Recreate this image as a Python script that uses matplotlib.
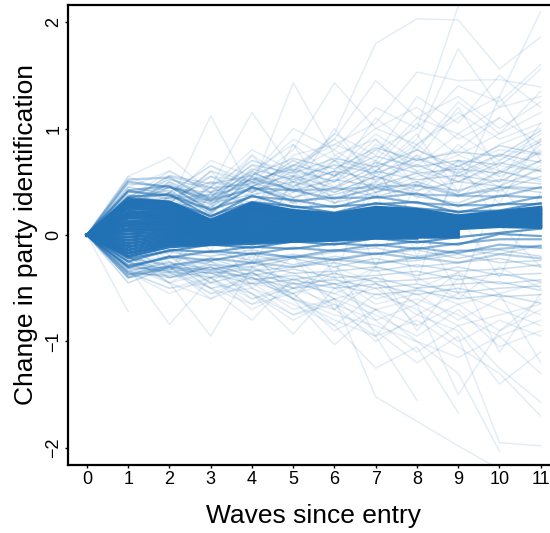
import numpy as np
import matplotlib
matplotlib.use("Agg")
import matplotlib.pyplot as plt

## Donnees
waves = list(range(12))

# trajectoires du coeur (tres nombreuses, superposees)
core_paths = [
    [0, .33, .31, .14, .30, .23, .20, .26, .24, .18, .22, .26],
    [0, .31, .29, .13, .28, .22, .19, .25, .23, .17, .21, .24],
    [0, .29, .27, .12, .26, .21, .18, .23, .22, .16, .20, .23],
    [0, .27, .25, .11, .25, .20, .17, .22, .21, .16, .19, .21],
    [0, .25, .23, .10, .23, .19, .16, .21, .20, .15, .18, .20],
    [0, .22, .21, .09, .21, .17, .15, .19, .18, .14, .17, .19],
    [0, .20, .19, .08, .19, .16, .14, .18, .17, .13, .16, .17],
    [0, .18, .17, .07, .17, .15, .13, .16, .16, .12, .15, .16],
    [0, .16, .15, .06, .15, .13, .12, .15, .14, .11, .14, .14],
    [0, .13, .13, .05, .13, .12, .11, .13, .13, .10, .12, .13],
    [0, .11, .11, .04, .11, .10, .10, .12, .12, .09, .11, .11],
    [0, .09, .09, .03, .09, .09, .08, .10, .10, .08, .10, .10],
    [0, .06, .07, .02, .07, .07, .07, .09, .09, .07, .09, .08],
    [0, .04, .05, .01, .05, .06, .06, .07, .08, .06, .08, .07],
    [0, .01, .03, .00, .03, .04, .04, .06, .06, .05],
    [0, -.02, .01, -.01, .01, .03, .03, .04, .05, .04],
    [0, -.05, -.01, -.02, .00, .01, .02, .03, .03, .02],
    [0, -.08, -.03, -.03, -.02, .00, .00, .02, .02, .01],
    [0, -.11, -.05, -.05, -.03, -.02, -.01, .00, .01, .00],
    [0, -.14, -.07, -.06, -.05, -.03, -.02, -.01, -.01, -.01],
    [0, -.17, -.09, -.08, -.06, -.05, -.04, -.02, -.02, -.02],
    [0, -.20, -.11, -.09, -.08, -.06, -.05, -.03, -.03],
]
core_counts = [30] * 21 + [22]

# bord du coeur (densite decroissante)
edge_paths = [
    [0, .35, .31, .18, .31, .27, .21, .30, .25, .22, .23, .30],
    [0, .36, .38, .17, .37, .26, .27, .29, .31, .21, .29, .29],
    [0, .41, .37, .24, .36, .33, .26, .36, .30, .28, .28, .36],
    [0, .42, .46, .23, .45, .32, .35, .35, .39, .27, .37, .35],
    [0, .50, .45, .32, .44, .42, .34, .44, .38, .37, .36, .45],
    [0, .52, .54, .33, .53, .42, .43, .45, .47, .37, .45, .44],
    [0, -.22, -.15, -.09, -.12, -.06, -.09, -.03, -.07, -.02, .02, .06],
    [0, -.25, -.14, -.16, -.11, -.13, -.08, -.10, -.06, -.09, .01, -.01],
    [0, -.29, -.21, -.15, -.18, -.12, -.15, -.09, -.13, -.08, -.04, -.04],
    [0, -.31, -.20, -.24, -.17, -.21, -.14, -.18, -.12, -.17, -.09, -.12],
    [0, -.37, -.29, -.22, -.26, -.20, -.23, -.17, -.22, -.15, -.13, -.10],
    [0, -.40, -.30, -.33, -.26, -.30, -.23, -.27, -.21, -.26, -.18, -.22],
]
edge_counts = [10, 8, 6, 5, 4, 3, 10, 8, 6, 5, 4, 3]

# halo autour du coeur
mid_paths = [
    [0, .30, .40, .22, .45, .30, .38, .48, .36, .30, .45, .40],
    [0, .25, .36, .30, .38, .44, .30, .40, .50, .38, .42, .55],
    [0, .38, .30, .26, .50, .35, .45, .36, .46, .42, .52, .48],
    [0, .28, .45, .34, .42, .50, .40, .55, .42, .50, .46, .62],
    [0, .35, .42, .20, .55, .42, .52, .46, .58, .40, .60, .52],
    [0, .42, .34, .38, .46, .56, .44, .60, .52, .56, .50, .70],
    [0, .30, .48, .28, .58, .46, .60, .52, .66, .50, .68, .60],
    [0, .40, .44, .40, .52, .62, .50, .68, .58, .62, .58, .78],
    [0, .45, .38, .32, .62, .52, .66, .58, .72, .58, .76, .68],
    [0, .36, .52, .44, .48, .66, .56, .74, .64, .70, .66, .88],
    [0, .48, .46, .36, .66, .58, .72, .64, .80, .64, .84, .76],
    [0, .32, .56, .48, .56, .72, .62, .82, .70, .78, .74, .98],
    [0, -.24, -.16, -.20, -.14, -.22, -.16, -.12, -.20, -.14, -.18, -.10],
    [0, -.28, -.22, -.16, -.24, -.18, -.24, -.18, -.14, -.22, -.14, -.20],
    [0, -.22, -.28, -.24, -.18, -.28, -.20, -.26, -.24, -.18, -.26, -.24],
    [0, -.30, -.20, -.28, -.30, -.22, -.30, -.22, -.30, -.26, -.22, -.30],
    [0, -.26, -.32, -.22, -.34, -.30, -.26, -.34, -.28, -.34, -.32, -.28],
    [0, -.34, -.26, -.32, -.26, -.36, -.34, -.30, -.38, -.30, -.38, -.36],
    [0, -.28, -.36, -.28, -.38, -.32, -.40, -.38, -.34, -.42, -.36, -.44],
    [0, -.32, -.30, -.36, -.32, -.42, -.36, -.44, -.42, -.38, -.46, -.42],
    [0, -.36, -.38, -.30, -.42, -.38, -.46, -.40, -.50, -.46, -.44, -.52],
    [0, -.30, -.34, -.40, -.36, -.46, -.42, -.50, -.46, -.54, -.50, -.48],
    [0, -.38, -.32, -.36, -.46, -.42, -.50, -.46, -.56, -.50, -.58, -.56],
    [0, -.34, -.40, -.34, -.40, -.50, -.46, -.56, -.52, -.60, -.56, -.64],
]
mid_counts = [2] * 24

# trajectoires isolees
stray_paths = [
    [0, .55, .73, .40, .65, .50],
    [0, .35, .30, 1.12, .40, .55, .35],
    [0, .20, .55, .45, 1.15, .60, .80, .55],
    [0, .30, .25, .60, .45, 1.43, .75, .90, .60],
    [0, .30, .50, .35, .70, .55, .95, 1.80, 2.03, 2.02, 1.56, 1.86],
    [0, .25, .40, .55, .50, .80, 1.43, 1.00, 1.20, .90, 1.10],
    [0, .35, .20, .45, .70, .60, .90, 1.45, 1.10, 1.30, 1.00, 1.25],
    [0, .15, .35, .50, .40, .75, .85, 1.05, 1.53, 1.45, 1.46, 1.39],
    [0, .30, .45, .25, .60, .40, .70, .60, .90, 1.75, 1.20, 1.30],
    [0, .20, .35, .50, .45, .70, .55, .80, 1.00, 2.15],
    [0, .45, .60, .40, .55, .90, .70, 1.00, .85, 1.10, 1.30, 2.10],
    [0, .25, .30, .60, .50, .65, .85, .70, 1.10, .95, 1.20, 1.56],
    [0, .30, .35, .70, .55, 1.00, .80, 1.20, 1.00, 1.40, 1.25, 1.60],
    [0, .35, .55, .45, .80, .60, .95, .75, 1.30, 1.05, 1.50, 1.20],
    [0, .20, .45, .35, .60, .85, .55, 1.10, .80, 1.25, .95, 1.35],
    [0, .30, .30, .55, .35, .65, .90, .60, .85, 1.15, .90, 1.05],
    [0, .30, .20, .40, .75, .50, .60, .95, .70, .80, 1.10, .85],
    [0, .25, .50, .30, .45, .70, .45, .65, 1.05, .75, .95, 1.15],
    [0, .55, .40, .65, .50, .45, .75, .55, .80, .60, .85, 1.00],
    [0, .15, .30, .55, .40, .60, .50, .85, .65, .95, .70, .90],
    [0, .33, .25, .35, .60, .40, .55, .70, .50, .65, .80, .75],
    [0, .35, .60, .40, .30, .55, .65, .45, .75, .55, .70, .95],
    [0, .20, .40, .65, .45, .35, .50, .80, .60, .75, .60, .80],
    [0, .30, .30, .20, .45, .65, .40, .55, .45, .85, .55, .70],
    [0, .10, .25, .45, .30, .50, .70, .40, .60, .50, .65, .60],
    [0, .30, -.20, .40, -.10, .50, .10, .70, -.20, .60, .30, .90],
    [0, -.30, .25, -.15, .45, .00, .60, -.30, .50, .20, -.40, .40],
    [0, .20, -.35, .30, -.25, .55, -.10, .40, -.45, .70, .10, -.30],
    [0, -.20, .40, .10, -.30, .35, -.40, .60, .15, -.55, .45, .05],
    [0, .25, .05, .50, .20, .85, .30, .60, .95, .40, 1.30, .70],
    [0, -.10, .30, .60, .20, .40, 1.00, .50, .70, 1.20, .60],
    [0, .20, .50, .25, .75, .35, .55, .90, .45, .70, .55],
    [0, .28, .15, .45, .25, .55, .35, .50, .75, .35, .60, .50],
    [0, .12, .40, .20, .55, .30, .70, .40, .55, .65, .45, .85],
    [0, .30, .10, .35, .50, .25, .45, .65, .35, .55, .75, .60],
    [0, .22, .35, .15, .40, .60, .30, .50, .40, .70, .50, 1.05],
    [0, .18, .28, .38, .20, .45, .60, .35, .85, .55, .40, .65],
    [0, -.72],
    [0, -.30, -.84, -.40, -.25],
    [0, -.20, -.45, -.95, -.30, -.50],
    [0, -.35, -.25, -.50, -.80, -.40, -.60],
    [0, -.25, -.40, -.30, -.55, -.93, -.50, -.70],
    [0, -.30, -.20, -.45, -.35, -.60, -1.03, -.70, -.85],
    [0, -.40, -.30, -.50, -.45, -.70, -.60, -1.52, -1.75, -1.98, -2.20],
    [0, -.20, -.35, -.55, -.40, -.60, -.80, -.95, -1.55],
    [0, -.35, -.50, -.40, -.65, -.55, -.85, -1.25, -1.05, -1.67],
    [0, -.25, -.45, -.35, -.55, -.75, -.60, -.90, -1.20, -.95, -1.95, -1.98],
    [0, -.30, -.25, -.50, -.40, -.60, -.75, -.85, -1.00, -1.30, -2.03],
    [0, -.15, -.40, -.30, -.60, -.45, -.70, -.95, -.80, -1.05, -1.30, -1.70],
    [0, -.45, -.30, -.55, -.50, -.75, -.65, -.80, -1.10, -.85, -1.25, -1.57],
    [0, -.20, -.30, -.60, -.45, -.55, -.90, -.70, -1.00, -1.15, -.95, -1.30],
    [0, -.35, -.55, -.40, -.70, -.50, -.65, -1.00, -.75, -.90, -1.40, -1.10],
    [0, -.25, -.20, -.45, -.55, -.80, -.60, -.75, -.95, -.70, -1.05, -.90],
    [0, -.40, -.35, -.25, -.50, -.65, -.85, -.55, -.70, -1.00, -.80, -.95],
    [0, -.30, -.45, -.60, -.35, -.55, -.45, -.80, -.65, -.85, -.75, -.65],
    [0, -.20, -.40, -.30, -.45, -.35, -.60, -.50, -.75, -.55, -.70, -.85],
    [0, -.45, -.30, -.40, -.60, -.50, -.40, -.65, -.55, -.80, -.60, -.75],
    [0, -.35, -.50, -.45, -.35, -.60, -.70, -.45, -.85, -.65, -.90, -.70],
    [0, -.25, -.35, -.50, -.65, -.45, -.55, -.70, -.60, -.75, -.95, -.80],
    [0, -.15, -.30, -.25, -.40, -.55, -.35, -.60, -.50, -.65, -.55, -1.20],
    [0, -.40, -.20, -.35, -.30, -.45, -.55, -.40, -.65, -1.50, -.90, -.60],
    [0, -.10, -.35, .10, -.50, -.20, -.70, -.30, -.90, -.40],
    [0, .10, -.25, -.45, -.15, -.60, -.25, -.95, -.50, -.35, -1.10, -.55],
    [0, -.25, -.10, -.40, -.20, -.50, -.30, -.45, -.65, -.35, -.55, -.45],
    [0, -.20, -.45, -.25, -.35, -.20, -.50, -.30, -.40, -.60, -.30, -.50],
]

## Figure
col = "#2171b5"
a1 = 0.12
lw = 1.1

plt.rcParams["font.family"] = ["Liberation Sans", "DejaVu Sans"]
fig = plt.figure(figsize=(5.5, 5.33), dpi=100)
ax = fig.add_axes([0.1236, 0.1276, 0.894, 0.863])

for p in stray_paths:
    ax.plot(waves[:len(p)], p, color=col, alpha=a1, lw=lw)
for p, n in zip(mid_paths, mid_counts):
    ax.plot(waves[:len(p)], p, color=col, alpha=1 - (1 - a1) ** n, lw=lw)
for p, n in zip(edge_paths, edge_counts):
    ax.plot(waves[:len(p)], p, color=col, alpha=1 - (1 - a1) ** n, lw=1.6)
for p, n in zip(core_paths, core_counts):
    ax.plot(waves[:len(p)], p, color=col, alpha=1 - (1 - a1) ** n, lw=2.3)

ax.set_xlim(-0.46, 11.46)
ax.set_ylim(-2.16, 2.16)
ax.set_xticks(waves)
ax.set_yticks([-2, -1, 0, 1, 2])
ax.set_yticklabels(["\u22122", "\u22121", "0", "1", "2"], rotation=90, va="center")
ax.tick_params(direction="out", length=2, width=1, labelsize=13, pad=2)
for s in ["left", "top", "bottom"]:
    ax.spines[s].set_linewidth(1.6)
ax.spines["right"].set_visible(False)
ax.set_xlabel("Waves since entry", fontsize=19, labelpad=12)
ax.set_ylabel("Change in party identification", fontsize=19, labelpad=5)

fig.savefig("out.png", dpi=100)
